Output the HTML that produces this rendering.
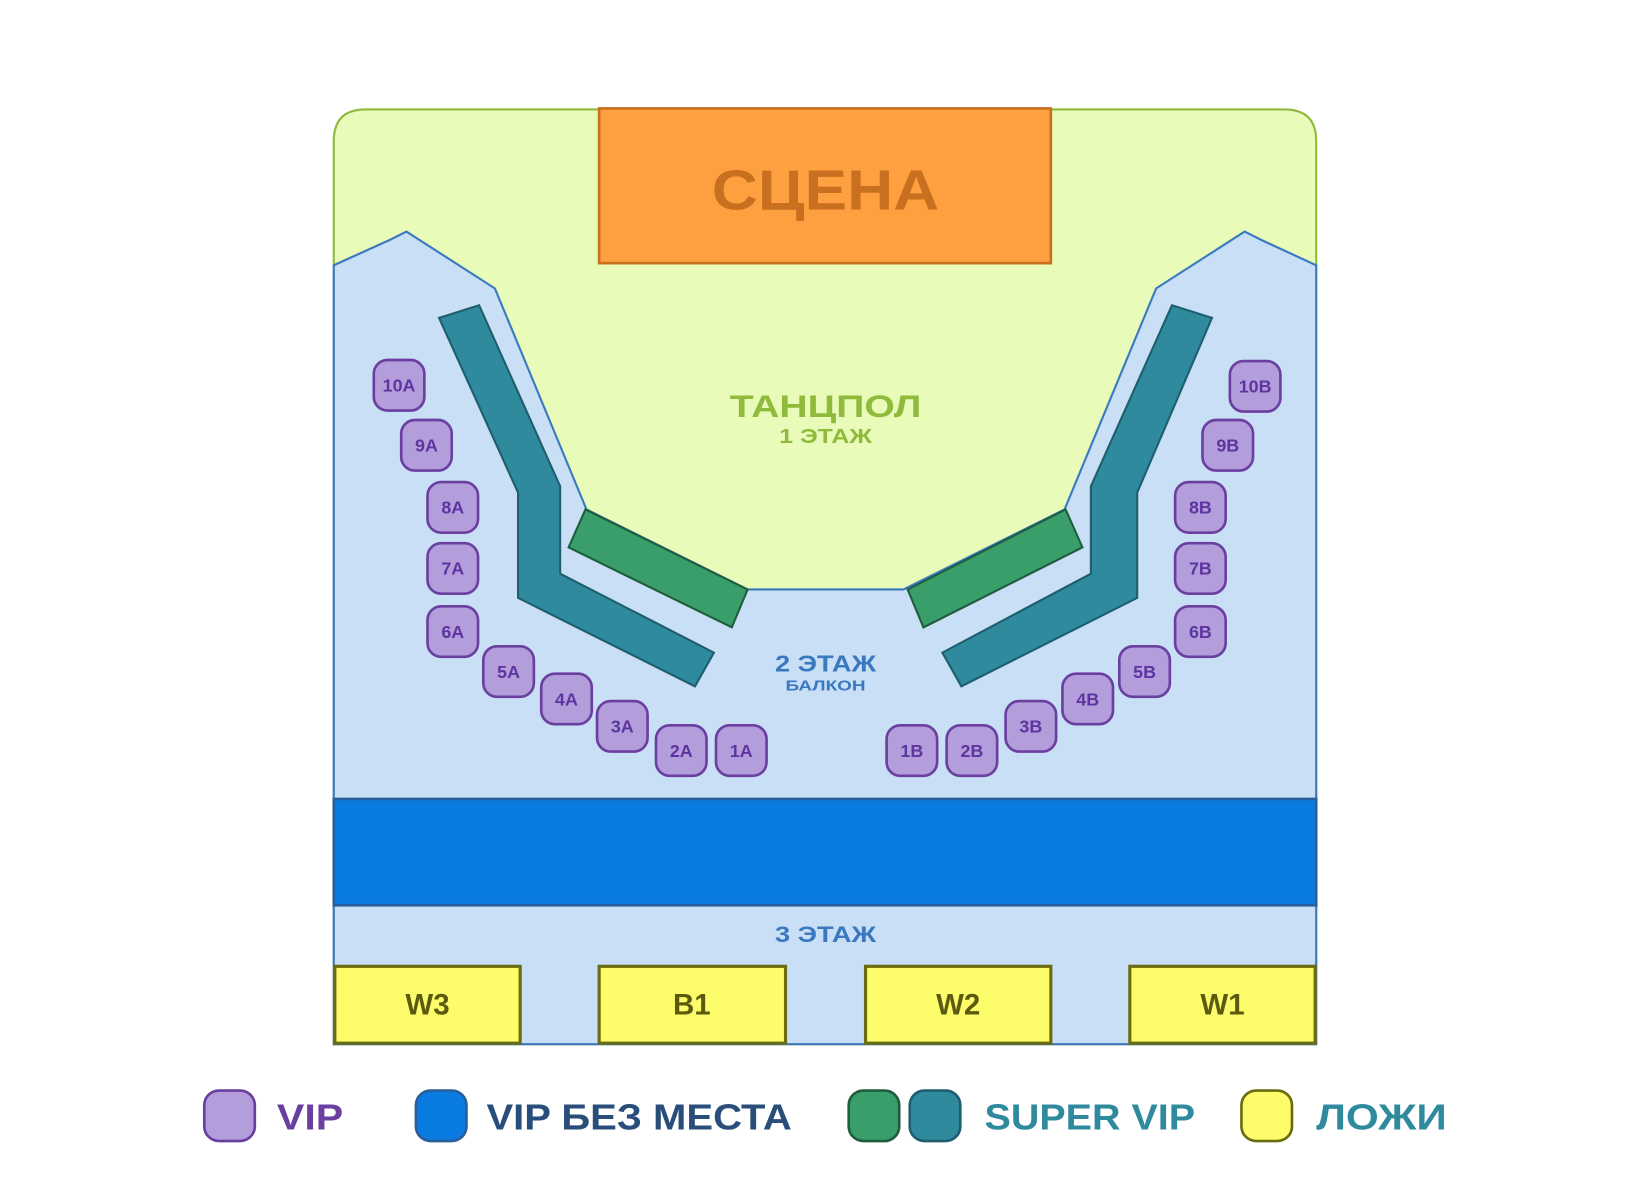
<!DOCTYPE html>
<html><head><meta charset="utf-8"><style>
html,body{margin:0;padding:0;background:#fff;width:1650px;height:1200px;overflow:hidden}
svg{display:block}
text{font-family:"Liberation Sans",sans-serif;font-weight:bold;text-anchor:middle}
</style></head><body>
<svg width="1650" height="1200" viewBox="0 0 1567 1140" preserveAspectRatio="none" xmlns="http://www.w3.org/2000/svg">
<path d="M317,992 L317,134 Q317,104 347,104 L1220,104 Q1250,104 1250,134 L1250,992 Z" fill="#e8fbb8" stroke="#8fba3c" stroke-width="2"/>
<path d="M317,252 L370,228 L386,220 L470,274 L557,484 L710,560 L858,560 L1011,484 L1098,274 L1182,220 L1198,228 L1250,252 L1250,992 L317,992 Z" fill="#c8dff5" stroke="#3a78c0" stroke-width="2"/>
<rect x="569" y="103" width="429" height="147" fill="#ffa040" stroke="#c8701c" stroke-width="2.5"/>
<text x="784" y="199" font-size="54" fill="#c87020" textLength="216" lengthAdjust="spacingAndGlyphs">СЦЕНА</text>
<polygon points="417,302 455,290 532,462 532,545 678,620 660,652 492,568 492,468" fill="#2f8a9e" stroke="#1e5e6e" stroke-width="2"/>
<polygon points="1151,302 1113,290 1036,462 1036,545 895,620 913,652 1080,568 1080,468" fill="#2f8a9e" stroke="#1e5e6e" stroke-width="2"/>
<polygon points="556,484 540,520 695,596 710,560" fill="#3a9e6a" stroke="#1e5e3e" stroke-width="2"/>
<polygon points="1012,484 1028,520 877,596 862,560" fill="#3a9e6a" stroke="#1e5e3e" stroke-width="2"/>
<text x="784" y="396" font-size="30" fill="#8fba3c" textLength="182" lengthAdjust="spacingAndGlyphs">ТАНЦПОЛ</text>
<text x="784" y="421" font-size="19" fill="#8fba3c" textLength="88" lengthAdjust="spacingAndGlyphs">1 ЭТАЖ</text>
<text x="784" y="638" font-size="22" fill="#3a78c0" textLength="96" lengthAdjust="spacingAndGlyphs">2 ЭТАЖ</text>
<text x="784" y="656" font-size="14" fill="#3a78c0" textLength="76" lengthAdjust="spacingAndGlyphs">БАЛКОН</text>
<g fill="#b39ddb" stroke="#6a3fa0" stroke-width="2.5">
<rect x="355" y="342" width="48" height="48" rx="13"/>
<rect x="381" y="399" width="48" height="48" rx="13"/>
<rect x="406" y="458" width="48" height="48" rx="13"/>
<rect x="406" y="516" width="48" height="48" rx="13"/>
<rect x="406" y="576" width="48" height="48" rx="13"/>
<rect x="459" y="614" width="48" height="48" rx="13"/>
<rect x="514" y="640" width="48" height="48" rx="13"/>
<rect x="567" y="666" width="48" height="48" rx="13"/>
<rect x="623" y="689" width="48" height="48" rx="13"/>
<rect x="680" y="689" width="48" height="48" rx="13"/>
<rect x="1168" y="343" width="48" height="48" rx="13"/>
<rect x="1142" y="399" width="48" height="48" rx="13"/>
<rect x="1116" y="458" width="48" height="48" rx="13"/>
<rect x="1116" y="516" width="48" height="48" rx="13"/>
<rect x="1116" y="576" width="48" height="48" rx="13"/>
<rect x="1063" y="614" width="48" height="48" rx="13"/>
<rect x="1009" y="640" width="48" height="48" rx="13"/>
<rect x="955" y="666" width="48" height="48" rx="13"/>
<rect x="899" y="689" width="48" height="48" rx="13"/>
<rect x="842" y="689" width="48" height="48" rx="13"/>
</g>
<g font-size="17" fill="#5e35a0">
<text x="379" y="372">10A</text><text x="405" y="429">9A</text><text x="430" y="488">8A</text><text x="430" y="546">7A</text><text x="430" y="606">6A</text>
<text x="483" y="644">5A</text><text x="538" y="670">4A</text><text x="591" y="696">3A</text><text x="647" y="719">2A</text><text x="704" y="719">1A</text>
<text x="1192" y="373">10B</text><text x="1166" y="429">9B</text><text x="1140" y="488">8B</text><text x="1140" y="546">7B</text><text x="1140" y="606">6B</text>
<text x="1087" y="644">5B</text><text x="1033" y="670">4B</text><text x="979" y="696">3B</text><text x="923" y="719">2B</text><text x="866" y="719">1B</text>
</g>
<rect x="317" y="759" width="933" height="101" fill="#0a7be0" stroke="#2a5e9a" stroke-width="2.5"/>
<text x="784" y="895" font-size="21" fill="#3a78c0" textLength="96" lengthAdjust="spacingAndGlyphs">3 ЭТАЖ</text>
<g fill="#fdfd6c" stroke="#6b6b10" stroke-width="3">
<rect x="318" y="918" width="176" height="73"/>
<rect x="569" y="918" width="177" height="73"/>
<rect x="822" y="918" width="176" height="73"/>
<rect x="1073" y="918" width="176" height="73"/>
</g>
<g font-size="28" fill="#5a5a10">
<text x="406" y="964">W3</text><text x="657" y="964">B1</text><text x="910" y="964">W2</text><text x="1161" y="964">W1</text>
</g>
<rect x="194" y="1036" width="48" height="48" rx="14" fill="#b39ddb" stroke="#6a3fa0" stroke-width="2.5"/>
<rect x="395" y="1036" width="48" height="48" rx="14" fill="#0a7be0" stroke="#2a5e9a" stroke-width="2.5"/>
<rect x="806" y="1036" width="48" height="48" rx="14" fill="#3a9e6a" stroke="#1e5e3e" stroke-width="2.5"/>
<rect x="864" y="1036" width="48" height="48" rx="14" fill="#2f8a9e" stroke="#1e5e6e" stroke-width="2.5"/>
<rect x="1179" y="1036" width="48" height="48" rx="14" fill="#fdfd6c" stroke="#6b6b10" stroke-width="2.5"/>
<g font-size="34">
<text x="263" y="1073" fill="#6a3fa0" style="text-anchor:start" textLength="63" lengthAdjust="spacingAndGlyphs">VIP</text>
<text x="462" y="1073" fill="#2a4e7a" style="text-anchor:start" textLength="290" lengthAdjust="spacingAndGlyphs">VIP БЕЗ МЕСТА</text>
<text x="935" y="1073" fill="#2f8a9e" style="text-anchor:start" textLength="200" lengthAdjust="spacingAndGlyphs">SUPER VIP</text>
<text x="1250" y="1073" fill="#2f8a9e" style="text-anchor:start" textLength="124" lengthAdjust="spacingAndGlyphs">ЛОЖИ</text>
</g>
</svg>
</body></html>
